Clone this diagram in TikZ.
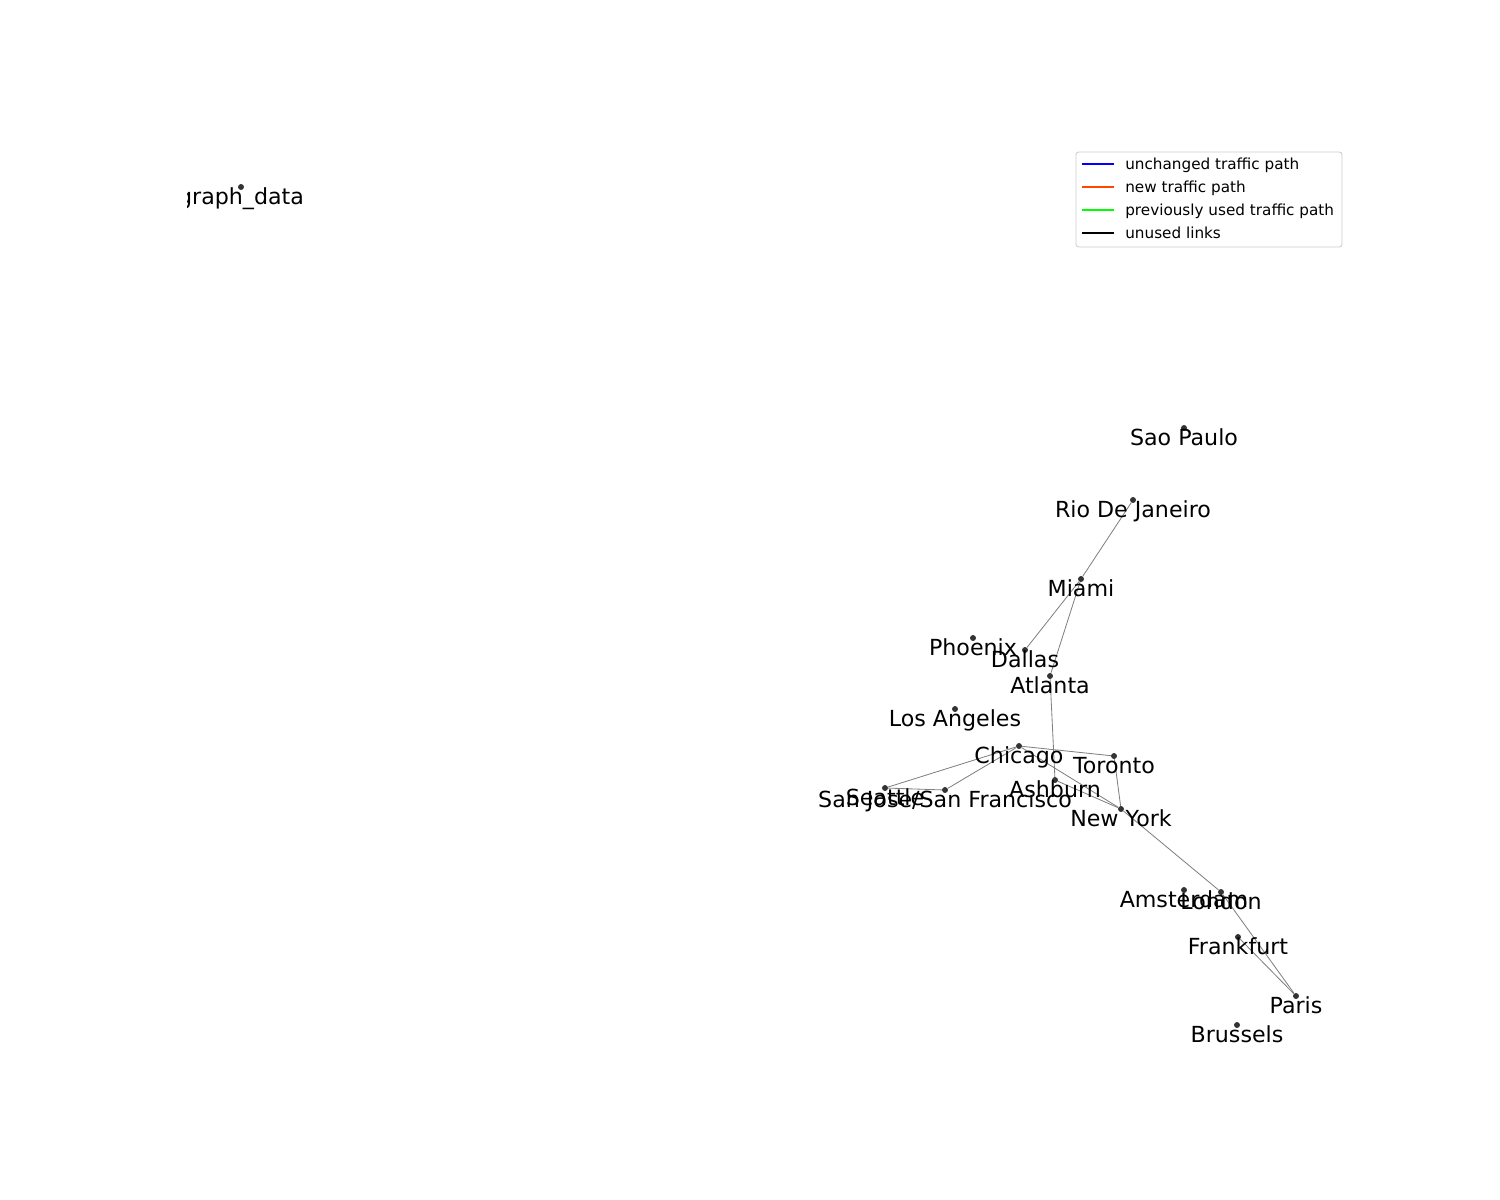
\documentclass[tikz,border=0pt]{standalone}
\usepackage{fontspec}
\setmainfont{DejaVu Sans}
\definecolor{unchanged}{RGB}{0,0,255}
\definecolor{newpath}{RGB}{255,69,0}
\definecolor{prevpath}{RGB}{0,255,0}
\definecolor{dotgray}{RGB}{51,51,51}

\begin{document}
\begin{tikzpicture}[x=0.01in, y=-0.01in,
    dot/.style={circle, fill=dotgray, inner sep=0pt, minimum size=4.3pt},
    lbl/.style={anchor=base, inner sep=0pt, font=\fontsize{16}{19}\selectfont},
    link/.style={draw=gray, line width=0.6pt},
    keyline/.style={line width=2pt},
    keytext/.style={anchor=base west, inner sep=0pt, font=\fontsize{11}{13}\selectfont}]
  \useasboundingbox (0,0) rectangle (1500,1200);

  % cities
  \foreach \n/\x/\y in {
      saopaulo/1184/428, rio/1133/500, miami/1081/579, phoenix/973/638,
      dallas/1025/650, atlanta/1050/676, losangeles/955/709, chicago/1019/746,
      toronto/1114/756, ashburn/1055/780, seattle/885/788, sanjose/945/790,
      newyork/1121/809, amsterdam/1184/890, london/1221/892, frankfurt/1238/937,
      paris/1296/996, brussels/1237/1025} {
    \node[dot] (\n) at (\x,\y) {};
  }
  \node[dot] (graphdata) at (241,187) {};

  % links
  \foreach \a/\b in {rio/miami, miami/dallas, miami/atlanta, atlanta/ashburn,
      chicago/toronto, chicago/seattle, chicago/sanjose, seattle/sanjose,
      chicago/newyork, ashburn/newyork, toronto/newyork, newyork/london,
      london/paris, frankfurt/paris} {
    \draw[link] (\a) -- (\b);
  }

  % labels
  \foreach \n/\t in {saopaulo/Sao Paulo, rio/Rio De Janeiro, miami/Miami,
      phoenix/Phoenix, dallas/Dallas, atlanta/Atlanta, losangeles/Los Angeles,
      chicago/Chicago, toronto/Toronto, ashburn/Ashburn, seattle/Seattle,
      sanjose/{San Jose/San Francisco}, newyork/New York, amsterdam/Amsterdam,
      london/London, frankfurt/Frankfurt, paris/Paris, brussels/Brussels} {
    \node[lbl] (\n-lbl) at ([yshift=-0.178in]\n.center) {\t};
  }
  \begin{scope}
    \clip (187.5,0) rectangle (1500,1200);
    \node[lbl] (graphdata-lbl) at ([yshift=-0.178in]graphdata.center) {graph\_data};
  \end{scope}

  % legend
  \draw[draw=black!20, fill=white, rounded corners=2pt, line width=0.6pt]
    (1076,152) rectangle (1342,247);
  \foreach \c/\y/\t/\k in {unchanged/164/unchanged traffic path/k1,
      newpath/187/new traffic path/k2,
      prevpath/210/previously used traffic path/k3,
      black/233/unused links/k4} {
    \draw[keyline, \c] (1082,\y) -- (1114,\y);
    \node[keytext] (\k) at (1125,\y+5.8) {\t};
  }
\end{tikzpicture}
\end{document}
